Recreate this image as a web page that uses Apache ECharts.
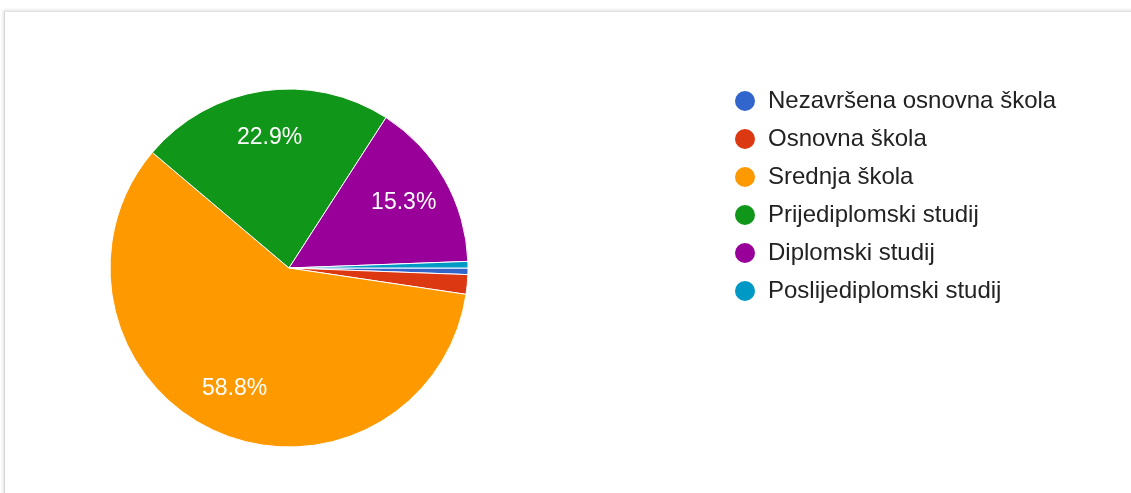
<!DOCTYPE html>
<html>
<head>
<meta charset="utf-8">
<script src="https://cdn.jsdelivr.net/npm/echarts@6/dist/echarts.min.js"></script>
<style>
  html, body { margin: 0; padding: 0; background: #fff; }
  .card {
    position: absolute;
    left: 4px;
    top: 11px;
    width: 1140px;
    height: 490px;
    border-top: 1px solid #e2e2e2;
    border-left: 1px solid #d6d6d6;
    box-shadow: -1px -1px 3px rgba(0,0,0,0.12);
  }
  #chart {
    position: absolute;
    left: 0;
    top: 0;
    width: 1131px;
    height: 493px;
  }
</style>
</head>
<body>
<div class="card"></div>
<div id="chart"></div>
<script>
// odgovori (broj ispitanika po razini obrazovanja)
var categories = [
  'Nezavršena osnovna škola',
  'Osnovna škola',
  'Srednja škola',
  'Prijediplomski studij',
  'Diplomski studij',
  'Poslijediplomski studij'
]
var counts = [1, 3, 100, 39, 26, 1]
var colors = ['#3366cc', '#dc3912', '#ff9900', '#109618', '#990099', '#0099c6']

var chart = echarts.init(document.getElementById('chart'))

var pieData = categories.map(function (name, i) {
  return { name: name, value: counts[i], itemStyle: { color: colors[i] } }
})
var total = counts.reduce(function (a, b) { return a + b }, 0)

var option = {
  animation: false,
  legend: {
    orient: 'vertical',
    left: 733,
    top: 89,
    padding: 0,
    icon: 'circle',
    itemWidth: 22,
    itemHeight: 22,
    itemGap: 14,
    selectedMode: false,
    textStyle: {
      fontFamily: 'Liberation Sans, Arial, sans-serif',
      fontSize: 24,
      lineHeight: 24,
      color: '#222',
      padding: [0, 0, 0, 7]
    },
    data: categories
  },
  series: [{
    name: 'main',
    type: 'pie',
    center: [289, 268],
    radius: [0, 179],
    startAngle: 0,
    clockwise: true,
    itemStyle: { borderColor: '#fff', borderWidth: 1 },
    label: { show: false },
    labelLine: { show: false },
    emphasis: { disabled: true },
    data: pieData
  }, {
    // prozirni sloj samo za postotke (pomaknuti prema rubu)
    name: 'labels',
    type: 'pie',
    silent: true,
    center: [289, 268],
    radius: [79, 179],
    startAngle: 0,
    clockwise: true,
    percentPrecision: 1,
    itemStyle: { color: 'transparent' },
    label: {
      show: true,
      position: 'inside',
      color: '#fff',
      fontFamily: 'Liberation Sans, Arial, sans-serif',
      fontSize: 23,
      formatter: function (p) {
        return p.value / total > 0.05 ? p.percent.toFixed(1) + '%' : ''
      }
    },
    labelLine: { show: false },
    data: categories.map(function (name, i) {
      return { name: name, value: counts[i] }
    })
  }]
}

chart.setOption(option)
</script>
</body>
</html>
